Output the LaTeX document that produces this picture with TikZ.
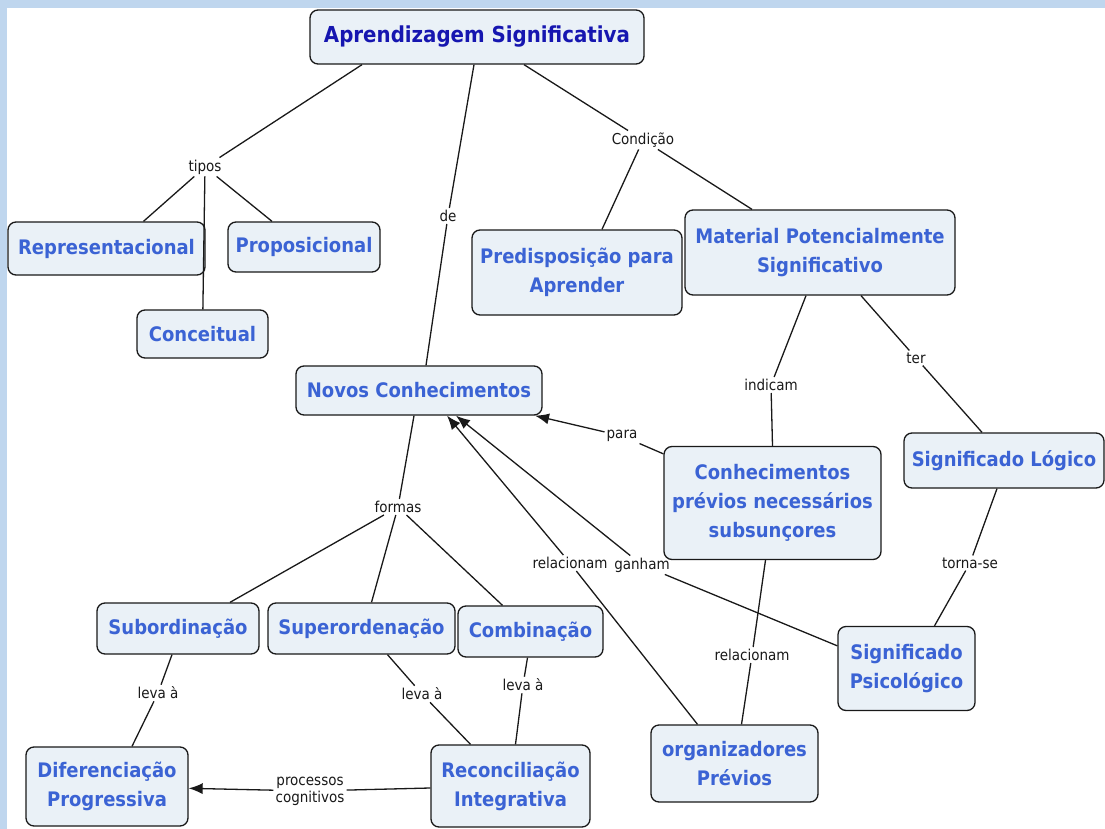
\documentclass[tikz,border=0pt]{standalone}
\usepackage{fontspec}
\setmainfont{DejaVu Sans Condensed}
\usetikzlibrary{arrows.meta}

\definecolor{fundo}{HTML}{BFD6EE}
\definecolor{caixa}{HTML}{EAF1F7}
\definecolor{azultexto}{HTML}{3B63D4}
\definecolor{azultitulo}{HTML}{1616B0}

\begin{document}
\begin{tikzpicture}[x=1pt, y=-1pt,
    conceito/.style={rectangle, rounded corners=8pt, draw=black!90,
      line width=1.3pt, fill=caixa, text=azultexto, align=center,
      font=\fontsize{20}{29}\selectfont\bfseries, inner sep=4pt},
    frase/.style={font=\fontsize{15}{17}\selectfont, inner sep=2pt,
      text=black!90, align=center},
    liga/.style={draw=black!90, line width=1.3pt},
    >={Latex[length=14pt,width=11pt]}]

  % fundo
  \fill[fundo] (0,0) rectangle (1105,829);
  \fill[white] (7,8) rectangle (1105,829);
  \useasboundingbox (0,0) rectangle (1105,829);

  % conceitos
  \node[conceito, text=azultitulo, font=\fontsize{22}{26}\selectfont\bfseries,
    minimum width=334, minimum height=54] (A) at (477,37) {Aprendizagem Significativa};
  \node[conceito, minimum width=197, minimum height=53] (Repr) at (106.5,248.5) {Representacional};
  \node[conceito, minimum width=152, minimum height=50] (Prop) at (304,247) {Proposicional};
  \node[conceito, minimum width=131, minimum height=48] (Conc) at (202.5,334) {Conceitual};
  \node[conceito, minimum width=210, minimum height=85] (Pred) at (577,272.5) {Predisposição para\\Aprender};
  \node[conceito, minimum width=270, minimum height=85] (Mat) at (820,252.5) {Material Potencialmente\\Significativo};
  \node[conceito, minimum width=246, minimum height=49] (NC) at (419,390.5) {Novos Conhecimentos};
  \node[conceito, minimum width=200, minimum height=55] (SL) at (1004,460.5) {Significado Lógico};
  \node[conceito, minimum width=217, minimum height=113] (CP) at (772.5,503) {Conhecimentos\\prévios necessários\\subsunçores};
  \node[conceito, minimum width=162, minimum height=51] (Sub) at (178,628.5) {Subordinação};
  \node[conceito, minimum width=187, minimum height=51] (Sup) at (361.5,628.5) {Superordenação};
  \node[conceito, minimum width=145, minimum height=51] (Comb) at (530.5,631.5) {Combinação};
  \node[conceito, minimum width=137, minimum height=84] (SP) at (906.5,668.5) {Significado\\Psicológico};
  \node[conceito, minimum width=167, minimum height=77] (Org) at (734.5,763.5) {organizadores\\Prévios};
  \node[conceito, minimum width=162, minimum height=79] (Dif) at (107,786.5) {Diferenciação\\Progressiva};
  \node[conceito, minimum width=159, minimum height=82] (Rec) at (510.5,786) {Reconciliação\\Integrativa};

  % frases de ligação
  \node[frase] (tipos) at (205,167) {tipos};
  \node[frase] (de) at (448,216) {de};
  \node[frase] (cond) at (643,140) {Condição};
  \node[frase] (indicam) at (771,385) {indicam};
  \node[frase] (ter) at (916,358) {ter};
  \node[frase] (para) at (622,436) {para};
  \node[frase] (formas) at (398,507) {formas};
  \node[frase] (rel1) at (570,563) {relacionam};
  \node[frase] (ganham) at (642,565) {ganham};
  \node[frase] (torna) at (970,563) {torna-se};
  \node[frase] (rel2) at (752,655) {relacionam};
  \node[frase] (leva1) at (158,693) {leva à};
  \node[frase] (leva2) at (422,694) {leva à};
  \node[frase] (leva3) at (523,685) {leva à};
  \node[frase] (proc) at (310,791) {processos\\cognitivos};

  % ligações
  \draw[liga] ([xshift=-115]A.south) -- (tipos);
  \draw[liga] (tipos) -- ([xshift=37]Repr.north);
  \draw[liga] (tipos) -- ([xshift=-32]Prop.north);
  \draw[liga] (tipos) -- (Conc);
  \draw[liga] ([xshift=-3]A.south) -- (de) -- ([xshift=7]NC.north);
  \draw[liga] ([xshift=47]A.south) -- (cond);
  \draw[liga] (cond) -- ([xshift=25]Pred.north);
  \draw[liga] (cond) -- ([xshift=-68]Mat.north);
  \draw[liga] ([xshift=-14]Mat.south) -- (indicam) -- (CP.north);
  \draw[liga] ([xshift=41]Mat.south) -- (ter) -- ([xshift=-22]SL.north);
  \draw[liga] ([xshift=-7]SL.south) -- (torna) -- ([xshift=28]SP.north);
  \draw[liga] ([yshift=-8]CP.north west) -- (para);
  \draw[liga,->] (para) -- ([xshift=116]NC.south);
  \draw[liga] ([xshift=-37]Org.north) -- (rel1);
  \draw[liga,->] (rel1) -- ([xshift=28]NC.south);
  \draw[liga] ([yshift=-20]SP.north west) -- (ganham);
  \draw[liga,->] (ganham) -- ([xshift=37]NC.south);
  \draw[liga] ([xshift=-7]CP.south) -- (rel2) -- ([xshift=7]Org.north);
  \draw[liga] ([xshift=-5]NC.south) -- (formas);
  \draw[liga] (formas) -- ([xshift=52]Sub.north);
  \draw[liga] (formas) -- ([xshift=10]Sup.north);
  \draw[liga] (formas) -- ([xshift=-28]Comb.north);
  \draw[liga] ([xshift=-6]Sub.south) -- (leva1) -- ([xshift=25]Dif.north);
  \draw[liga] ([xshift=26]Sup.south) -- (leva2) -- ([xshift=-40]Rec.north);
  \draw[liga] ([xshift=-3]Comb.south) -- (leva3) -- ([xshift=5]Rec.north);
  \draw[liga] (Rec) -- (proc);
  \draw[liga,->] (proc) -- (Dif);
\end{tikzpicture}
\end{document}
